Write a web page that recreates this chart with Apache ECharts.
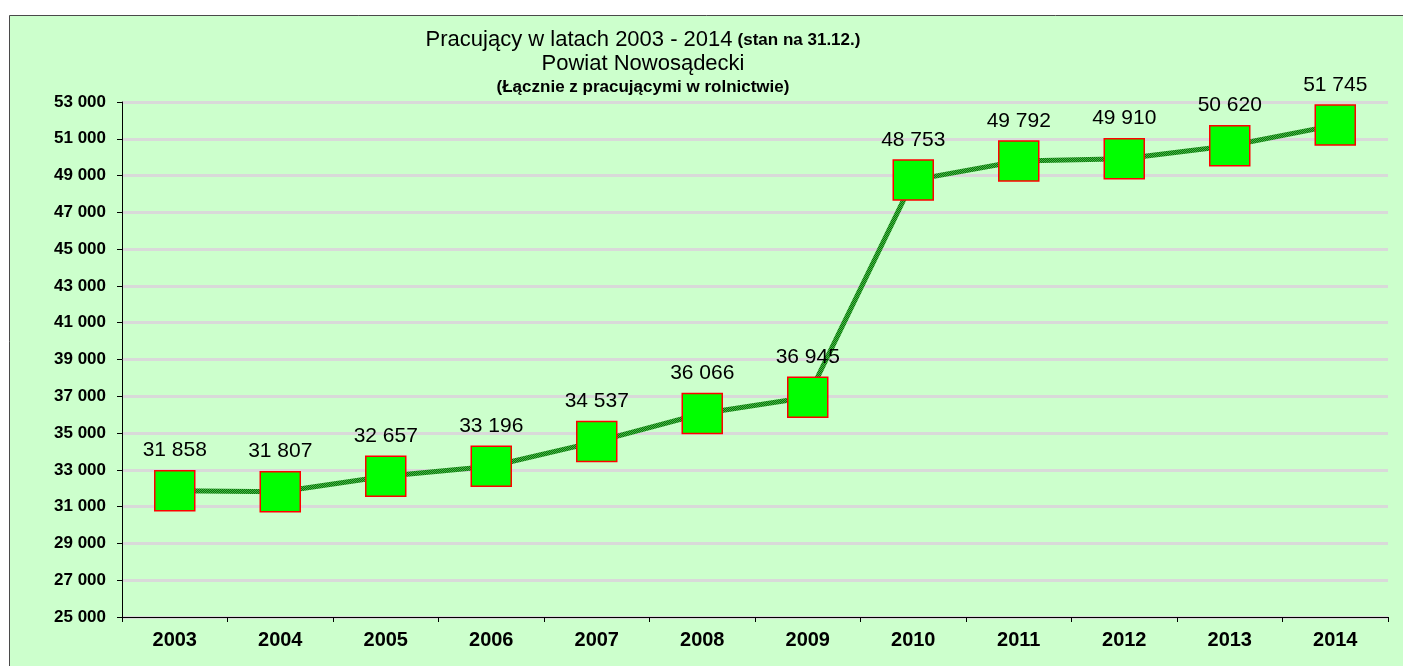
<!DOCTYPE html>
<html>
<head>
<meta charset="utf-8">
<script src="https://cdn.jsdelivr.net/npm/echarts@6/dist/echarts.min.js"></script>
<style>
  html, body { margin: 0; padding: 0; background: #fff; }
  #chart { width: 1403px; height: 666px; }
</style>
</head>
<body>
<div id="chart"></div>
<script>
// Data
const years = ["2003", "2004", "2005", "2006", "2007", "2008", "2009", "2010", "2011", "2012", "2013", "2014"];
const employed = [31858, 31807, 32657, 33196, 34537, 36066, 36945, 48753, 49792, 49910, 50620, 51745];
const yMin = 25000;
const yMax = 53000;
const yStep = 2000;

// 31858 -> "31 858"
function spaced(v) {
  return String(v).replace(/\B(?=(\d{3})+(?!\d))/g, " ");
}

// small checker texture for the line, like the dotted green stroke in the original
function linePattern() {
  const c = document.createElement("canvas");
  c.width = 2;
  c.height = 2;
  const ctx = c.getContext("2d");
  ctx.fillStyle = "#0b720b";
  ctx.fillRect(0, 0, 2, 2);
  ctx.fillStyle = "#45b845";
  ctx.fillRect(0, 0, 1, 1);
  ctx.fillRect(1, 1, 1, 1);
  return c;
}

const font = "Liberation Sans, Arial, sans-serif";
const chart = echarts.init(document.getElementById("chart"));

chart.setOption({
  backgroundColor: "#ffffff",
  animation: false,
  graphic: [{
    type: "rect",
    z: -10,
    shape: { x: 9.5, y: 15.5, width: 1400, height: 660 },
    style: { fill: "#ccffcc", stroke: "#4a4a4a", lineWidth: 1 }
  }],
  title: {
    left: 638,
    top: 23,
    textAlign: "center",
    text: "{a|Pracujący w latach 2003 - 2014} {b|(stan na 31.12.)}\n{a|Powiat Nowosądecki}\n{c|(Łącznie z pracującymi w rolnictwie)}",
    textStyle: {
      fontFamily: font,
      fontWeight: "normal",
      rich: {
        a: { fontSize: 22, fontWeight: "normal", color: "#000", fontFamily: font, lineHeight: 24 },
        b: { fontSize: 17, fontWeight: "bold", color: "#000", fontFamily: font, lineHeight: 24 },
        c: { fontSize: 17, fontWeight: "bold", color: "#000", fontFamily: font, lineHeight: 23 }
      }
    }
  },
  grid: { left: 122, right: 15, top: 102, bottom: 49 },
  xAxis: {
    type: "category",
    data: years,
    boundaryGap: true,
    axisLine: { lineStyle: { color: "#000", width: 1 } },
    axisTick: { show: true, length: 5, lineStyle: { color: "#000" } },
    axisLabel: { color: "#000", fontSize: 20, fontWeight: "bold", fontFamily: font, margin: 13 }
  },
  yAxis: {
    type: "value",
    min: yMin,
    max: yMax,
    interval: yStep,
    axisLine: { show: true, lineStyle: { color: "#000", width: 1 } },
    axisTick: { show: true, length: 5, lineStyle: { color: "#000" } },
    axisLabel: {
      color: "#000", fontSize: 17, fontWeight: "bold", fontFamily: font, margin: 16,
      formatter: spaced
    },
    splitLine: { show: true, lineStyle: { color: "#d9d9d9", width: 3 } }
  },
  series: [{
    type: "line",
    data: employed,
    symbol: "rect",
    symbolSize: 40,
    lineStyle: { color: { image: linePattern(), repeat: "repeat" }, width: 5 },
    itemStyle: { color: "#00ff00", borderColor: "#ff0000", borderWidth: 1.5 },
    label: {
      show: true,
      position: "top",
      distance: 9,
      color: "#000",
      fontSize: 21,
      fontFamily: font,
      formatter: p => spaced(p.value)
    }
  }]
});
</script>
</body>
</html>
